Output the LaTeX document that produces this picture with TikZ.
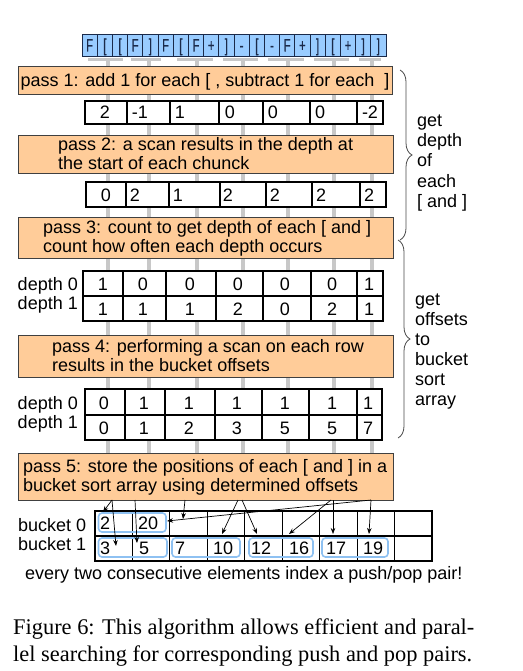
\documentclass[tikz,border=0pt]{standalone}
\usepackage{fontspec}
\setmainfont{Liberation Sans}
\newfontfamily\capfont{Liberation Serif}
\newfontfamily\narrowfont[FakeStretch=0.62,FakeBold=0.6]{Liberation Sans}
\usetikzlibrary{arrows.meta,decorations.pathreplacing}
\definecolor{passorange}{HTML}{FFCC99}
\definecolor{cellblue}{HTML}{99CCFF}
\definecolor{topborder}{HTML}{1A2A4A}
\definecolor{stemgray}{HTML}{C8C8C8}
\definecolor{bluebox}{HTML}{8EC1F2}
\def\lb{[}
\def\rb{]}
\begin{document}
\begin{tikzpicture}[x=1pt,y=-1pt,
  tf/.style={inner sep=0pt, font=\fontsize{18}{19}\selectfont},
  lt/.style={tf, anchor=base west},
  ct/.style={tf, anchor=base},
  rt/.style={tf, anchor=base east},
  topchar/.style={inner sep=0pt, anchor=base, font=\narrowfont\fontsize{18}{18}\selectfont, text=topborder},
  passbox/.style={draw=black!75, fill=passorange, line width=0.9pt},
  tablebox/.style={draw=black, fill=white, line width=1.1pt},
  gridline/.style={draw=black, line width=1.1pt},
  topcell/.style={draw=topborder, fill=cellblue, line width=0.9pt},
  stem/.style={draw=stemgray, line width=4pt},
  gbar/.style={draw=stemgray, line width=3pt},
  arr/.style={-{Stealth[length=6pt,width=4.5pt]}, line width=0.7pt, black},
  pairbox/.style={draw=bluebox, line width=1.6pt, rounded corners=3.5pt},
  bracepath/.style={decorate, decoration={brace, amplitude=12pt}, draw=black!70, line width=0.8pt},
  captxt/.style={inner sep=0pt, anchor=base west, font=\capfont\fontsize{22.4}{27}\selectfont}
]
\useasboundingbox (0,0) rectangle (522,671);
\fill[white] (0,0) rectangle (522,671);

% gray stems and bars
\foreach \sx/\ba/\bb in {107.5/88/123, 148.5/131/161, 196.5/177/213, 242.5/223/258, 287.5/268/304, 334/314/349, 372/359/381}{
  \draw[stem] (\sx,58) -- (\sx,455);
  \draw[gbar] (\ba,59.5) -- (\bb,59.5);
}

% top string
\foreach \c [count=\i from 0] in {F,\lb,\lb,F,\rb,F,\lb,F,+,\rb,-,\lb,-,F,+,\rb,\lb,+,\rb,\rb}{
  \draw[topcell] ({82+15.2*\i},34) rectangle ++(15.2,22);
  \node[topchar] (c\i) at ({89.6+15.2*\i},51.5) {\c};
}

% pass 1
\draw[passbox] (18,66) rectangle (392,94);
\node[ct] (p1) at (205,86.5) {pass 1: add 1 for each [ , subtract 1 for each\ \ ]};

% row 1
\draw[tablebox] (85,101) rectangle (383,124);
\foreach \x in {127,170,219,263,310,357} \draw[gridline] (\x,101) -- (\x,124);
\foreach \v/\x [count=\i] in {2/105,-1/140,1/180,0/230,0/273,0/320,-2/370}
  \node[ct] (ra\i) at (\x,119) {\v};

% pass 2
\draw[passbox] (18,135) rectangle (393,173);
\node[lt] (p2a) at (58,151) {pass 2: a scan results in the depth at};
\node[lt] (p2b) at (58,169.5) {the start of each chunck};

% row 2
\draw[tablebox] (86,182) rectangle (386,207);
\foreach \x in {126,169,220,266,312,360} \draw[gridline] (\x,182) -- (\x,207);
\foreach \v/\x [count=\i] in {0/106,2/135,1/178,2/228,2/275,2/321,2/369}
  \node[ct] (rb\i) at (\x,201.5) {\v};

% pass 3
\draw[passbox] (18,217) rectangle (393,258);
\node[lt] (p3a) at (43,233.5) {pass 3: count to get depth of each [ and ]};
\node[lt] (p3b) at (43,252.5) {count how often each depth occurs};

% depth table 1
\draw[tablebox] (83,271) rectangle (383,321);
\draw[gridline] (83,296) -- (383,296);
\foreach \x in {123,166,216,263,311,357} \draw[gridline] (\x,271) -- (\x,321);
\node[rt] (da0) at (78,290) {depth 0};
\node[rt] (da1) at (78,309) {depth 1};
\foreach \v/\w/\x [count=\i] in {1/1/103,0/1/143,0/1/190,0/2/238,0/0/285,0/2/332,1/1/369}{
  \node[ct] (dA\i) at (\x,290) {\v};
  \node[ct] (dB\i) at (\x,315) {\w};
}

% pass 4
\draw[passbox] (18,335) rectangle (393,377);
\node[lt] (p4a) at (52,352.5) {pass 4: performing a scan on each row};
\node[lt] (p4b) at (52,371.5) {results in the bucket offsets};

% depth table 2
\draw[tablebox] (85,389) rectangle (382,440);
\draw[gridline] (85,415) -- (382,415);
\foreach \x in {125,165,215,262,309,357} \draw[gridline] (\x,389) -- (\x,440);
\node[rt] (db0) at (78,409) {depth 0};
\node[rt] (db1) at (78,428) {depth 1};
\foreach \v/\w/\x [count=\i] in {0/0/104,1/1/144,1/2/189,1/3/237,1/5/285,1/5/332,1/7/368}{
  \node[ct] (eA\i) at (\x,409) {\v};
  \node[ct] (eB\i) at (\x,434) {\w};
}

% pass 5
\draw[passbox] (18,453) rectangle (393,500);
\node[lt] (p5a) at (23,472) {pass 5: store the positions of each [ and ] in a};
\node[lt] (p5b) at (23,491) {bucket sort array using determined offsets};

% bucket table
\draw[tablebox] (95,511) rectangle (432,561);
\draw[gridline] (95,536) -- (432,536);
\foreach \k in {1,...,8} \draw[gridline] ({95+37.44*\k},511) -- ({95+37.44*\k},561);
\draw[line width=1.8pt] (132.44,511) -- (132.44,561);
\node[lt] (bl0) at (18,531) {bucket 0};
\node[lt] (bl1) at (18,550) {bucket 1};

\draw[pairbox] (98.5,513) rectangle (166,532);
\draw[pairbox] (98.5,538) rectangle (167,557);
\draw[pairbox] (172,538) rectangle (240,557);
\draw[pairbox] (249,538) rectangle (313,557);
\draw[pairbox] (322,538) rectangle (388,557);

\node[lt] (k0a) at (100,529) {2};
\node[lt] (k0b) at (138,529) {20};
\foreach \v/\x [count=\i] in {3/100,5/139,7/175,10/213,12/251,16/289,17/326,19/363}
  \node[lt] (k1\i) at (\x,554.5) {\v};

% arrows
\coordinate (s1) at (112,500);
\coordinate (s3) at (135,500);
\coordinate (s4) at (185,500);
\coordinate (s6) at (238,500);
\coordinate (s7) at (242,500);
\coordinate (s8) at (331,500);
\coordinate (s9) at (333,500);
\coordinate (s10) at (371,500);
\coordinate (e1) at (103,512);
\coordinate (e2) at (116,546);
\coordinate (e3) at (137,543);
\coordinate (e4) at (183,519);
\coordinate (e5) at (167,521);
\coordinate (e6) at (222,534);
\coordinate (e7) at (257,534);
\coordinate (e8) at (289,534);
\coordinate (e9) at (333,534);
\coordinate (e10) at (369,534);
\draw[arr] (s1) -- (e1);
\draw[arr] (s1) -- (e2);
\draw[arr] (s3) -- (e3);
\draw[arr] (s4) -- (e4);
\draw[arr] (s10) -- (e5);
\draw[arr] (s6) -- (e6);
\draw[arr] (s7) -- (e7);
\draw[arr] (s8) -- (e8);
\draw[arr] (s9) -- (e9);
\draw[arr] (s10) -- (e10);

\node[lt] (note) at (25,579) {every two consecutive elements index a push/pop pair!};

% braces
\draw[bracepath] (400,70) -- (400,240);
\draw[bracepath] (398,240) -- (398,438);
\foreach \t/\y [count=\i] in {get/127,depth/147,of/167,each/187,{[ and ]}/207}
  \node[lt] (g\i) at (417,\y) {\t};
\foreach \t/\y [count=\i] in {get/305,offsets/325,to/345,bucket/365,sort/385,array/405}
  \node[lt] (h\i) at (415,\y) {\t};

% caption
\node[captxt] (cap1) at (13,634) {Figure 6: This algorithm allows efficient and paral-};
\node[captxt] (cap2) at (13,661) {lel searching for corresponding push and pop pairs.};
\end{tikzpicture}
\end{document}
